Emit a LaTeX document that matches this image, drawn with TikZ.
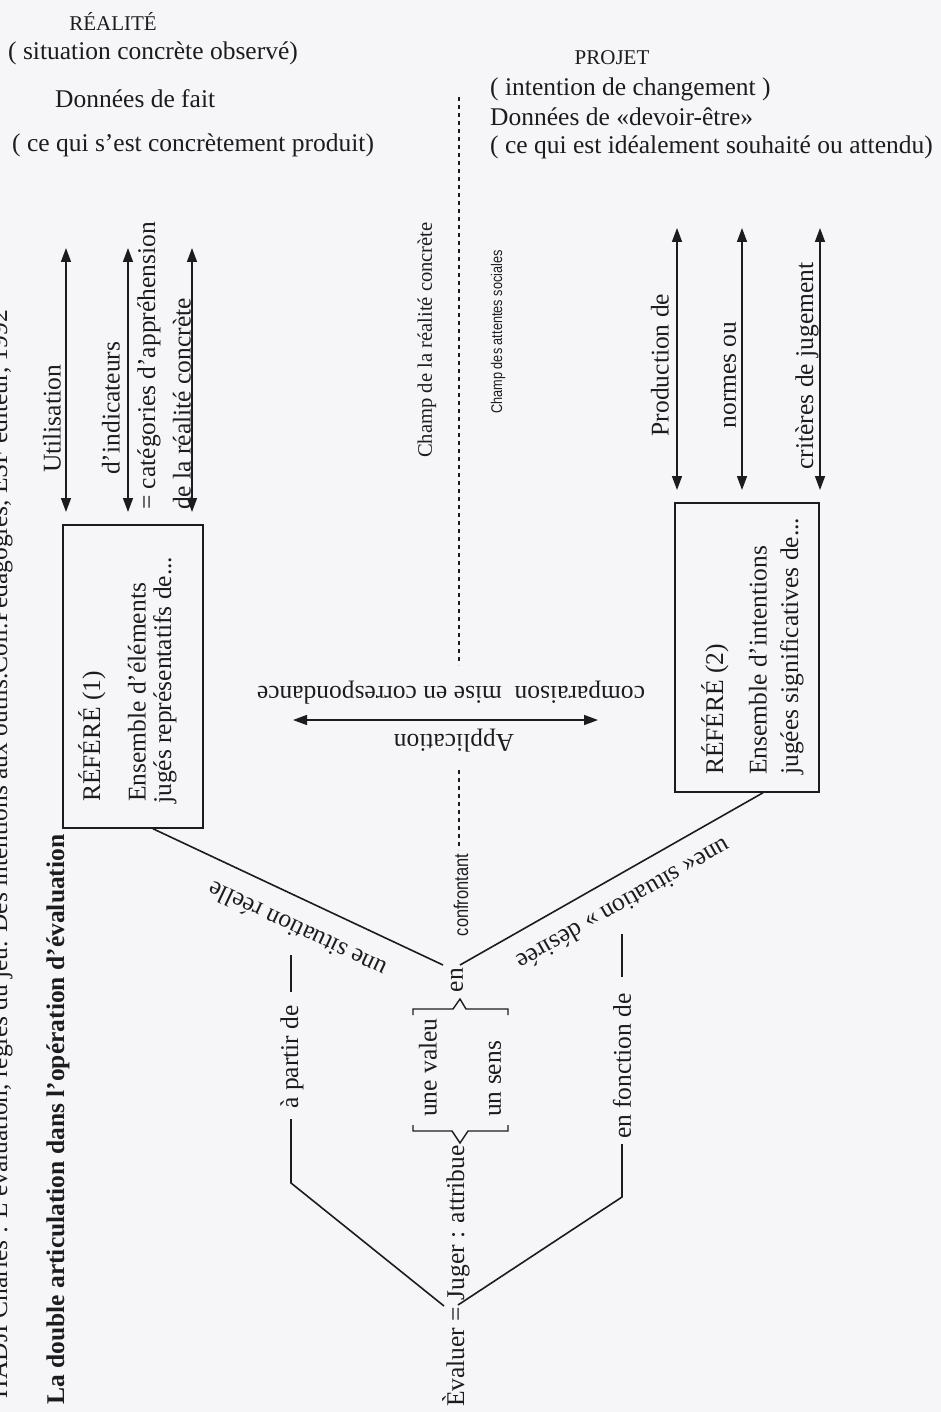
\documentclass[tikz,border=0pt]{standalone}
\usepackage{fontspec}
\setmainfont{Liberation Serif}
\newfontfamily\narrowsans{Liberation Sans}
\usepackage{graphicx}
\usetikzlibrary{arrows.meta}
\definecolor{ink}{RGB}{28,28,30}
\definecolor{paper}{RGB}{246,246,249}
\newcommand{\fsBig}{\fontsize{25.5}{30}\selectfont}
\newcommand{\fsMid}{\fontsize{21}{25}\selectfont}
\begin{document}
\begin{tikzpicture}[x=1pt,y=-1pt,
  lbl/.style={font=\fsBig, inner sep=0pt, text=ink},
  lblmid/.style={font=\fsMid, inner sep=0pt, text=ink},
  vert/.style={rotate=90},
  flip/.style={rotate=180},
  ln/.style={draw=ink, line width=1.6pt},
  dbl/.style={draw=ink, fill=ink, line width=1.5pt, {Triangle[length=14pt,width=10pt]}-{Triangle[length=14pt,width=10pt]}},
  dsh/.style={draw=ink, line width=1.4pt, dash pattern=on 4pt off 4pt},
  refbox/.style={draw=ink, line width=1.5pt, inner sep=0pt},
]
\useasboundingbox (0,0) rectangle (941,1412);
\fill[paper] (0,0) rectangle (941,1412);

% citation (cut at the page edge) and title
\node[lbl, rotate=90, anchor=base east] (cite) at (7,310) {HADJI Charles : L’évaluation, règles du jeu. Des intentions aux outils.Coll.Pédagogies, ESF éditeur, 1992};
\node[lbl, vert, anchor=west, font=\fsBig\bfseries] (title) at (58,1405) {La double articulation dans l’opération d’évaluation};

% top texts, left
\node[lblmid] (realite) at (113,21) {RÉALITÉ};
\node[lbl, anchor=west] (situobs) at (8,53) {( situation concrète observé)};
\node[lbl, anchor=west] (donfait) at (55,99) {Données de fait};
\node[lbl, anchor=west] (cequi) at (12,145) {( ce qui s’est concrètement produit)};

% top texts, right
\node[lblmid] (projet) at (612,58) {PROJET};
\node[lbl, anchor=west] (intent) at (490,89) {( intention de changement )};
\node[lbl, anchor=west] (devoir) at (490,117) {Données de «devoir-être»};
\node[lbl, anchor=west] (ideal) at (490,147) {( ce qui est idéalement souhaité ou attendu)};

% central dashed divider and field labels
\coordinate (dTop) at (459,97);
\coordinate (dMidA) at (459,665);
\coordinate (dMidB) at (459,770);
\coordinate (dLow) at (459,850);
\draw[dsh] (dTop) -- (dMidA);
\draw[dsh] (dMidB) -- (dLow);
\node[inner sep=0pt, text=ink, vert, font=\fontsize{20.6}{24}\selectfont] (champR) at (427,340) {Champ de la réalité concrète};
\node[inner sep=0pt, text=ink, vert, font=\narrowsans\fontsize{15.5}{18}\selectfont] (champA) at (498,332) {\scalebox{0.82}[1]{Champ des attentes sociales}};

% left arrows and labels
\coordinate (la1t) at (66,248);  \coordinate (la1b) at (66,512);
\coordinate (la2t) at (128,248); \coordinate (la2b) at (128,512);
\coordinate (la3t) at (192,248); \coordinate (la3b) at (192,512);
\draw[dbl] (la1b) -- (la1t);
\draw[dbl] (la2b) -- (la2t);
\draw[dbl] (la3b) -- (la3t);
\node[lbl, vert, anchor=west] (util) at (52,473) {Utilisation};
\node[lbl, vert, anchor=west] (indic) at (111,475) {d’indicateurs};
\node[lbl, vert, anchor=west] (categ) at (149,510) {= catégories d’appréhension};
\node[lbl, vert, anchor=west] (reelc) at (182,510) {de la réalité concrète};

% right arrows and labels
\coordinate (ra1t) at (677,228); \coordinate (ra1b) at (677,490);
\coordinate (ra2t) at (742,228); \coordinate (ra2b) at (742,490);
\coordinate (ra3t) at (820,228); \coordinate (ra3b) at (820,490);
\draw[dbl] (ra1b) -- (ra1t);
\draw[dbl] (ra2b) -- (ra2t);
\draw[dbl] (ra3b) -- (ra3t);
\node[lbl, vert] (prod) at (660,365) {Production de};
\node[lbl, vert] (normes) at (730,375) {normes ou};
\node[lbl, vert] (crit) at (807,366) {critères de jugement};

% box 1
\node[refbox, minimum width=140pt, minimum height=303pt] (b1) at (133,676.5) {};
\node[lbl, vert, anchor=west] (r1a) at (92,802) {RÉFÉRÉ (1)};
\node[lbl, vert, anchor=west] (r1b) at (137,802) {Ensemble d’éléments};
\node[lbl, vert, anchor=west] (r1c) at (165,804) {jugés représentatifs de...};

% box 2
\node[refbox, minimum width=144pt, minimum height=289pt] (b2) at (747,647.5) {};
\node[lbl, vert, anchor=west] (r2a) at (715,775) {RÉFÉRÉ (2)};
\node[lbl, vert, anchor=west] (r2b) at (758,775) {Ensemble d’intentions};
\node[lbl, vert, anchor=west] (r2c) at (792,775) {jugées significatives de...};

% application arrow
\coordinate (apL) at (293,720);
\coordinate (apR) at (598,720);
\draw[dbl] (apL) -- (apR);
\node[lbl, flip] (compar) at (451,693) {comparaison\ \ mise en correspondance};
\node[lbl, flip] (applic) at (454,741) {Application};

% upper fork
\coordinate (b1s) at ([xshift=20pt]b1.south);
\coordinate (b2s) at ([xshift=16pt]b2.south);
\coordinate (enL) at (443,965);
\coordinate (enR) at (460,965);
\draw[ln] (b1s) -- (enL);
\draw[ln] (enR) -- (b2s);
\node[lbl, rotate=154.7] (sitr) at (297,930) {une situation réelle};
\node[lbl, rotate=209.7] (sitd) at (624,905) {une« situation » désirée};
\node[inner sep=0pt, text=ink, vert, font=\narrowsans\fontsize{20}{24}\selectfont] (confr) at (461,895) {\scalebox{0.82}[1]{confrontant}};
\node[lbl, vert] (en) at (457,980) {en};

% braces
\draw[ln, line width=1.4pt] (413,1015) -- (413,1009) -- (453,1009) -- (460,999) -- (466,1009) -- (508,1009) -- (508,1015);
\draw[ln, line width=1.4pt] (413,1125) -- (413,1131) -- (452,1131) -- (460,1143) -- (468,1131) -- (508,1131) -- (508,1125);
\node[lbl, vert, anchor=west] (valeur) at (428,1117) {une valeu};
\node[lbl, vert, anchor=west] (sens) at (495,1117) {un sens};

% lower fork
\node[lbl, vert, anchor=west] (evaluer) at (456,1407) {Èvaluer = Juger : attribue};
\coordinate (evL) at (444,1306);
\coordinate (evR) at (458,1305);
\coordinate (apL1) at (291,1183);
\coordinate (apL2) at (291,1119);
\coordinate (apD1) at (291,992);
\coordinate (apD2) at (291,955);
\coordinate (efR1) at (622,1197);
\coordinate (efR2) at (622,1144);
\coordinate (efD1) at (622,977);
\coordinate (efD2) at (622,934);
\draw[ln] (evL) -- (apL1) -- (apL2);
\draw[ln] (apD1) -- (apD2);
\draw[ln] (evR) -- (efR1) -- (efR2);
\draw[ln] (efD1) -- (efD2);
\node[lbl, vert] (apartir) at (292,1057) {à partir de};
\node[lbl, vert] (enfonc) at (622,1066) {en fonction de};
\end{tikzpicture}
\end{document}
